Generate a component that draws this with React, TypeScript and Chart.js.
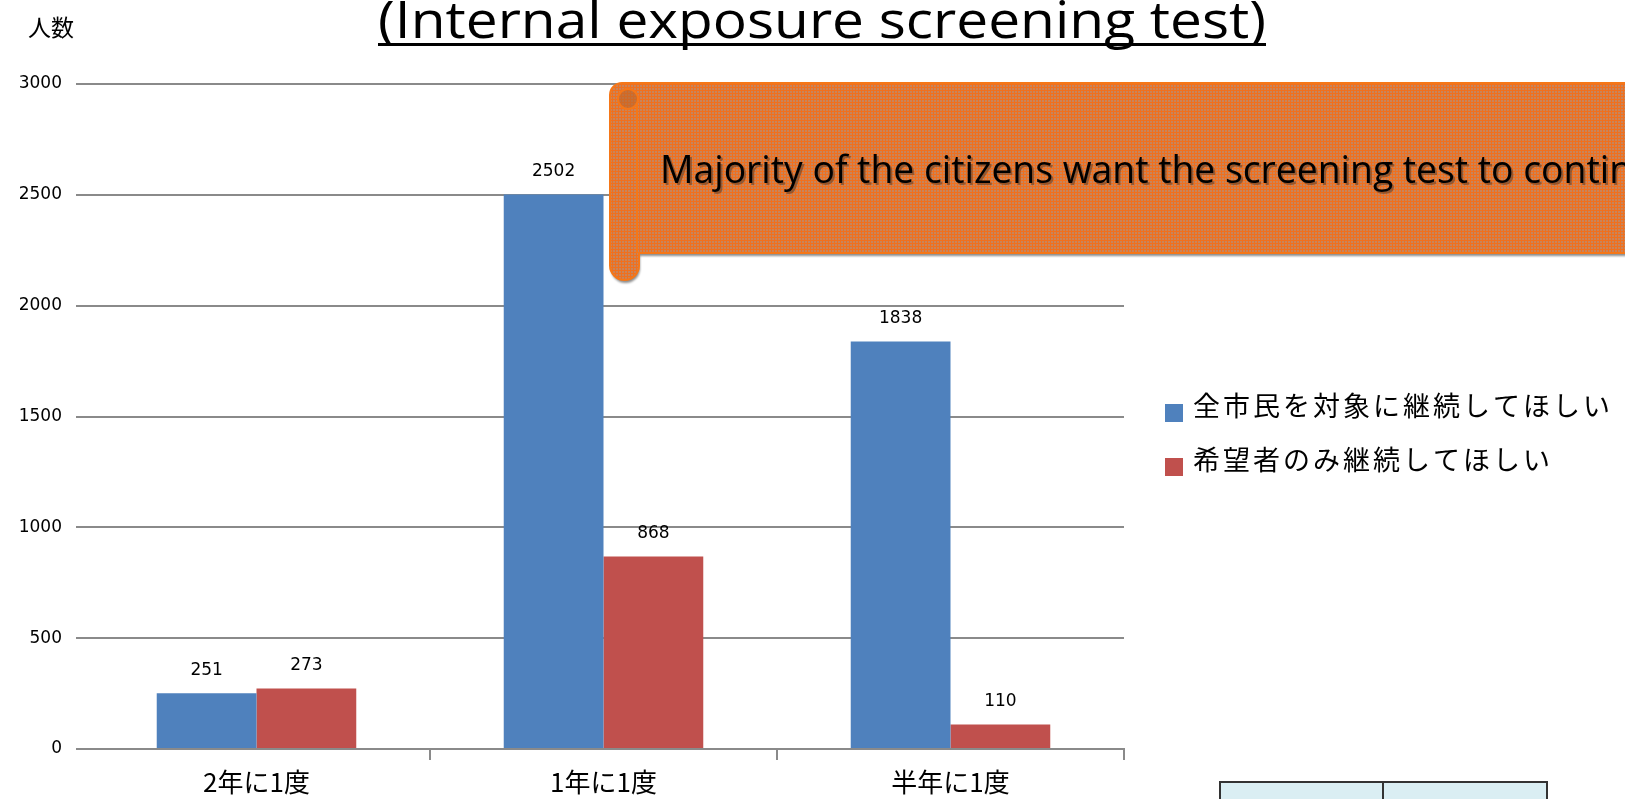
import React, { useEffect, useRef } from "react";
import { Chart, registerables } from "chart.js";

Chart.register(...registerables);

// ---- data ----
const categories = ["2年に1度", "1年に1度", "半年に1度"];
const seriesNames = ["全市民を対象に継続してほしい", "希望者のみ継続してほしい"];
const allCitizensValues = [251, 2502, 1838];
const applicantsOnlyValues = [273, 868, 110];
const seriesColors = ["#4F81BD", "#C0504D"];
const yMin = 0;
const yMax = 3000;
const yStep = 500;
const titleText = "(Internal exposure screening test)";
const yAxisTitle = "人数";
const calloutText = "Majority of the citizens want the screening test to continue";
const calloutVisiblePart = "Majority of the citizens want the screening test to contin";

const GRID = "#8A8A8A";
const CJK = "'Noto Sans CJK JP', 'Noto Sans', sans-serif";
const NUM = "'DejaVu Sans', 'Liberation Sans', sans-serif";

function makePattern(ctx: CanvasRenderingContext2D) {
  const c = document.createElement("canvas");
  c.width = 3;
  c.height = 3;
  const p = c.getContext("2d")!;
  p.fillStyle = "#C8845A";
  p.fillRect(0, 0, 3, 3);
  p.fillStyle = "#F0701E";
  p.fillRect(0, 0, 3, 1);
  p.fillRect(0, 0, 1, 3);
  return ctx.createPattern(c, "repeat")!;
}

const overlayPlugin = {
  id: "overlay",
  afterDatasetsDraw(chart: any) {
    const ctx: CanvasRenderingContext2D = chart.ctx;
    ctx.save();
    ctx.fillStyle = "#000";
    ctx.font = `17px ${NUM}`;
    ctx.textAlign = "center";
    ctx.textBaseline = "middle";
    chart.data.datasets.forEach((ds: any, i: number) => {
      const meta = chart.getDatasetMeta(i);
      meta.data.forEach((bar: any, j: number) => {
        ctx.fillText(String(ds.data[j]), bar.x, bar.y - 23);
      });
    });
    ctx.restore();
  },
  afterDraw(chart: any) {
    const ctx: CanvasRenderingContext2D = chart.ctx;
    ctx.save();

    // y-axis title
    ctx.fillStyle = "#000";
    ctx.font = `23px ${CJK}`;
    ctx.textAlign = "left";
    ctx.textBaseline = "middle";
    ctx.fillText(yAxisTitle, 28, 27);

    // title (condensed to mimic Calibri)
    ctx.font = `52px 'Open Sans', sans-serif`;
    ctx.textBaseline = "alphabetic";
    const tw = ctx.measureText(titleText).width;
    const targetW = 888;
    const sx = targetW / tw;
    ctx.save();
    ctx.translate(378, 38);
    ctx.scale(sx, 1);
    ctx.fillText(titleText, 0, 0);
    ctx.restore();
    ctx.fillRect(378, 43, targetW, 3);

    // legend
    const lx = 1165;
    const rows = [412, 466];
    chart.data.datasets.forEach((ds: any, i: number) => {
      ctx.fillStyle = ds.backgroundColor;
      ctx.fillRect(lx, rows[i] - 8, 18, 18);
      ctx.fillStyle = "#000";
      ctx.font = `27px ${CJK}`;
      (ctx as any).letterSpacing = "3px";
      ctx.textBaseline = "middle";
      ctx.fillText(ds.label, lx + 28, rows[i] - 6);
      (ctx as any).letterSpacing = "0px";
    });

    // callout (horizontal scroll shape)
    const L = 610, T = 83, B = 253, SR = 639, SB = 280, R = 1650;
    const cx = (L + SR) / 2;
    const r = (SR - L) / 2;
    const shape = () => {
      ctx.beginPath();
      ctx.moveTo(L + 12, T);
      ctx.lineTo(R, T);
      ctx.lineTo(R, B);
      ctx.lineTo(SR, B);
      ctx.lineTo(SR, SB - r);
      ctx.arc(cx, SB - r, r, 0, Math.PI, false);
      ctx.lineTo(L, T + 12);
      ctx.arcTo(L, T, L + 12, T, 12);
      ctx.closePath();
    };
    ctx.save();
    ctx.shadowColor = "rgba(0,0,0,0.45)";
    ctx.shadowOffsetX = 1;
    ctx.shadowOffsetY = 3;
    ctx.shadowBlur = 2;
    shape();
    ctx.fillStyle = makePattern(ctx);
    ctx.fill();
    ctx.restore();
    ctx.strokeStyle = "#F57718";
    ctx.lineWidth = 2;
    shape();
    ctx.stroke();
    // inner scroll line
    ctx.beginPath();
    ctx.moveTo(637, 100);
    ctx.lineTo(637, B);
    ctx.stroke();
    // small curl circle
    ctx.beginPath();
    ctx.arc(628, 99, 10, 0, Math.PI * 2);
    ctx.fillStyle = "rgba(190,100,40,0.6)";
    ctx.fill();
    ctx.stroke();

    // callout text
    ctx.font = `38px 'Open Sans', sans-serif`;
    ctx.textBaseline = "alphabetic";
    const vw = ctx.measureText(calloutVisiblePart).width;
    const csx = 972 / vw;
    ctx.save();
    ctx.translate(660, 183);
    ctx.scale(csx, 1);
    ctx.fillStyle = "rgba(90,60,40,0.55)";
    ctx.fillText(calloutText, 2, 2);
    ctx.fillStyle = "#000";
    ctx.fillText(calloutText, 0, 0);
    ctx.restore();

    // table stub at bottom right
    ctx.fillStyle = "#DAEEF3";
    ctx.fillRect(1220, 782, 327, 30);
    ctx.strokeStyle = "#333";
    ctx.lineWidth = 2;
    ctx.strokeRect(1220, 782, 327, 30);
    ctx.beginPath();
    ctx.moveTo(1383, 782);
    ctx.lineTo(1383, 800);
    ctx.stroke();

    ctx.restore();
  },
};

export default function App() {
  const canvasRef = useRef<HTMLCanvasElement | null>(null);

  useEffect(() => {
    document.body.style.margin = "0";
    const canvas = canvasRef.current!;
    const chart = new Chart(canvas, {
      type: "bar",
      data: {
        labels: categories,
        datasets: [
          {
            label: seriesNames[0],
            data: allCitizensValues,
            backgroundColor: seriesColors[0],
            borderWidth: 0,
          },
          {
            label: seriesNames[1],
            data: applicantsOnlyValues,
            backgroundColor: seriesColors[1],
            borderWidth: 0,
          },
        ],
      },
      options: {
        responsive: false,
        animation: false,
        devicePixelRatio: 1,
        layout: { padding: { top: 84, right: 501, bottom: 0, left: 0 } },
        datasets: { bar: { categoryPercentage: 0.575, barPercentage: 1.0 } },
        plugins: {
          legend: { display: false },
          title: { display: false },
          tooltip: { enabled: false },
        },
        scales: {
          x: {
            grid: {
              offset: true,
              drawOnChartArea: false,
              drawTicks: true,
              tickLength: 11,
              lineWidth: 2,
              color: (c: any) => (c.index === 0 ? "rgba(0,0,0,0)" : GRID),
            },
            border: { display: true, color: GRID, width: 2 },
            ticks: {
              color: "#000",
              font: { family: CJK, size: 26 },
              padding: 7,
              maxRotation: 0,
            },
            afterFit: (scale: any) => {
              scale.height = 50;
            },
          },
          y: {
            min: yMin,
            max: yMax,
            ticks: {
              stepSize: yStep,
              color: "#000",
              font: { family: NUM, size: 17 },
              padding: 14,
              callback: (v: any) => String(v),
            },
            grid: {
              color: GRID,
              lineWidth: 2,
              drawTicks: true,
              tickLength: 7,
            },
            border: { display: false },
            afterFit: (scale: any) => {
              scale.width = 83;
            },
          },
        },
      },
      plugins: [overlayPlugin],
    });
    return () => chart.destroy();
  }, []);

  return (
    <div style={{ position: "absolute", left: 0, top: 0, width: 1625, height: 799, background: "#fff" }}>
      <canvas ref={canvasRef} width={1625} height={799} style={{ display: "block" }} />
    </div>
  );
}
